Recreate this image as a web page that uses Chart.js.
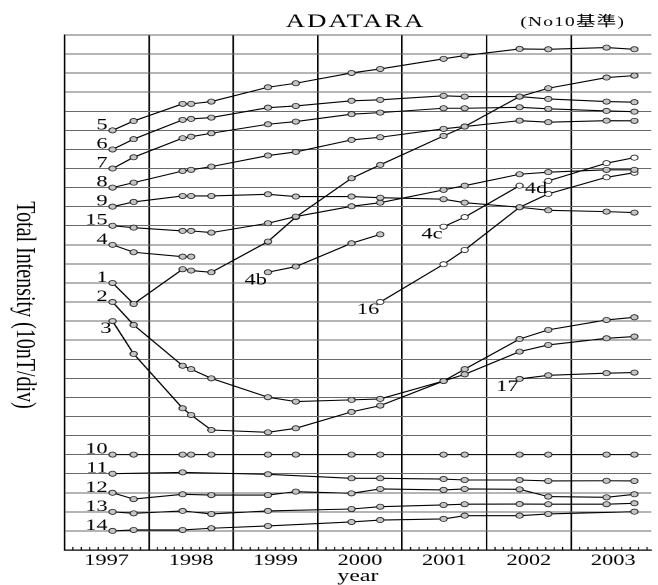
<!DOCTYPE html>
<html>
<head>
<meta charset="utf-8">
<script src="https://cdn.jsdelivr.net/npm/chart.js@4.4.1/dist/chart.umd.min.js"></script>
<style>
  html, body { margin: 0; padding: 0; background: #fff; overflow: hidden; }
  /* the original figure is stretched sideways, so the chart is drawn narrow and widened */
  #wrap { width: 470px; height: 585px; transform: scaleX(1.4); transform-origin: 0 0; }
</style>
</head>
<body>
<div id="wrap"><canvas id="chart"></canvas></div>
<script>
// survey dates (decimal years), shared by all stations
const dates = [1997.57, 1997.82, 1998.40, 1998.50, 1998.74, 1999.41, 1999.74, 2000.40,
               2000.74, 2001.49, 2001.74, 2002.39, 2002.73, 2003.42, 2003.75];
const tickYears = [1997, 1998, 1999, 2000, 2001, 2002, 2003];
const yearLines = [1998, 1999, 2000, 2001, 2002, 2003];

// total intensity per station, in divisions of 10 nT (null = not measured)
const s5  = [22.0, 22.49, 23.39, 23.39, 23.51, 24.26, 24.47, 25.01, 25.22, 25.75, 25.92, 26.27, 26.25, 26.34, 26.25];
const s6  = [21.0, 21.54, 22.55, 22.60, 22.67, 23.19, 23.28, 23.55, 23.60, 23.81, 23.77, 23.77, 23.65, 23.51, 23.48];
const s7  = [20.0, 20.59, 21.59, 21.67, 21.85, 22.32, 22.46, 22.85, 22.93, 23.16, 23.16, 23.21, 23.13, 23.02, 22.98];
const s8  = [19.0, 19.26, 19.87, 19.93, 20.10, 20.68, 20.87, 21.50, 21.64, 22.08, 22.20, 22.51, 22.43, 22.51, 22.50];
const s9  = [18.0, 18.25, 18.56, 18.56, 18.56, 18.65, 18.53, 18.53, 18.47, 18.39, 18.21, 17.97, 17.81, 17.74, 17.69];
const s15 = [17.0, 16.90, 16.73, 16.73, 16.64, 17.13, 17.48, 18.02, 18.21, 18.88, 19.10, 19.70, 19.81, 19.93, 19.93];
const s4  = [16.0, 15.61, 15.38, 15.38, null, null, null, null, null, null, null, null, null, null, null];
const s4b = [null, null, null, null, null, 14.56, 14.86, 16.08, 16.55, null, null, null, null, null, null];
const s4c = [null, null, null, null, null, null, null, null, null, 16.95, 17.45, 19.10, null, null, null];
const s4d = [null, null, null, null, null, null, null, null, null, null, null, null, 19.35, 20.28, 20.57];
const s1  = [14.0, 12.90, 14.72, 14.65, 14.56, 16.17, 17.45, 19.49, 20.19, 21.71, 22.20, 23.77, 24.21, 24.77, 24.87];
const s16 = [null, null, null, null, null, null, null, null, 13.0, 14.98, 15.73, 17.97, 18.67, 19.54, 19.78];
const s2  = [13.0, 11.80, 9.66, 9.48, 9.00, 8.01, 7.78, 7.87, 7.92, 8.86, 9.21, 10.40, 10.75, 11.10, 11.19];
const s3  = [12.0, 10.28, 7.43, 7.08, 6.29, 6.17, 6.38, 7.24, 7.57, 8.86, 9.48, 11.06, 11.54, 12.06, 12.20];
const s17 = [null, null, null, null, null, null, null, null, null, null, null, 8.97, 9.16, 9.27, 9.30];
const s10 = [5, 5, 5, 5, 5, 5, 5, 5, 5, 5, 5, 5, 5, 5, 5];
const s11 = [4.0, null, 4.07, null, null, 3.97, null, 3.76, 3.76, 3.72, 3.67, 3.67, 3.62, 3.63, 3.62];
const s12 = [3.0, 2.67, 2.92, null, 2.88, 2.88, 3.06, 2.97, 3.20, 3.15, 3.20, 3.18, 2.80, 2.76, 2.92];
const s13 = [2.0, 1.92, 2.05, null, 1.89, 2.05, null, 2.15, 2.27, 2.36, 2.40, 2.41, 2.40, 2.40, 2.45];
const s14 = [1.0, 1.05, 1.05, null, 1.14, 1.26, null, 1.47, 1.57, 1.63, 1.80, 1.80, 1.89, null, 2.01];

const stations = [
  ['5', s5], ['6', s6], ['7', s7], ['8', s8], ['9', s9], ['15', s15], ['4', s4],
  ['4b', s4b], ['4c', s4c], ['4d', s4d], ['1', s1], ['16', s16], ['2', s2], ['3', s3],
  ['17', s17], ['10', s10], ['11', s11], ['12', s12], ['13', s13], ['14', s14]
];
const openMarkers = ['16', '4c', '4d'];
const labelsBelow = ['3', '4b', '4c', '4d', '16', '17'];

const SERIF = '"Liberation Serif", "Times New Roman", serif';

const datasets = stations.map(([name, vals]) => ({
  label: name,
  data: dates.map((x, i) => ({ x: x, y: vals[i] })).filter(p => p.y !== null),
  borderColor: '#000',
  borderWidth: 1.1,
  pointRadius: 2.6,
  pointBorderWidth: 0.8,
  pointBorderColor: '#222',
  pointBackgroundColor: openMarkers.includes(name) ? '#fff' : '#c4c4c4',
  tension: 0
}));

// titles, station names and the small year ticks
const decorPlugin = {
  id: 'decor',
  afterDraw(chart) {
    const ctx = chart.ctx;
    const area = chart.chartArea;
    const xs = chart.scales.x;
    ctx.save();

    ctx.strokeStyle = '#000';
    ctx.lineWidth = 0.8;
    ctx.beginPath();
    for (let i = 1; i < 70; i++) {
      if (i % 10 === 0) continue;
      const px = xs.getPixelForValue(1997 + i / 10);
      if (px > area.right) break;
      ctx.moveTo(px, area.bottom);
      ctx.lineTo(px, area.bottom - 3);
    }
    ctx.stroke();

    ctx.fillStyle = '#000';
    ctx.font = '16px ' + SERIF;
    ctx.textAlign = 'right';
    ctx.textBaseline = 'alphabetic';
    chart.data.datasets.forEach((ds, di) => {
      const pt = chart.getDatasetMeta(di).data[0];
      if (labelsBelow.includes(ds.label)) ctx.fillText(ds.label, pt.x - 0.7, pt.y + 12);
      else ctx.fillText(ds.label, pt.x - 3.5, pt.y - 1);
    });

    ctx.textAlign = 'center';
    ctx.font = '19px ' + SERIF;
    ctx.letterSpacing = '1.5px';
    ctx.fillText('ADATARA', 254, 27);
    ctx.font = '14px ' + SERIF + ', "Noto Sans CJK JP"';
    ctx.letterSpacing = '0.8px';
    ctx.fillText('(No10基準)', 409, 26);
    ctx.letterSpacing = '0px';

    ctx.translate(17, 305);
    ctx.rotate(Math.PI / 2);
    ctx.font = '20px ' + SERIF;
    ctx.textBaseline = 'middle';
    ctx.fillText('Total Intensity (10nT/div)', 0, 0);
    ctx.restore();
  }
};

new Chart(document.getElementById('chart'), {
  type: 'line',
  data: { datasets: datasets },
  plugins: [decorPlugin],
  options: {
    responsive: true,
    maintainAspectRatio: false,
    devicePixelRatio: 2,
    animation: false,
    layout: { padding: { top: 35, left: 0, right: 0, bottom: 0 } },
    plugins: { legend: { display: false }, tooltip: { enabled: false } },
    scales: {
      x: {
        type: 'linear',
        min: 1997,
        max: 2003.95,
        afterBuildTicks: s => { s.ticks = tickYears.map(y => ({ value: y + 0.5 })); },
        afterFit: s => { s.height = 35; },
        ticks: {
          autoSkip: false,
          maxRotation: 0,
          padding: 1,
          color: '#000',
          font: { family: SERIF, size: 16 },
          callback: (v, i) => String(tickYears[i])
        },
        grid: { display: false, drawTicks: false },
        border: { display: true, color: '#000', width: 1.2 },
        title: {
          display: true,
          text: 'year',
          color: '#000',
          padding: 0,
          font: { family: SERIF, size: 17, lineHeight: 1 }
        }
      },
      xg: {
        type: 'linear',
        position: 'bottom',
        min: 1997,
        max: 2003.95,
        afterBuildTicks: s => { s.ticks = yearLines.map(y => ({ value: y })); },
        afterFit: s => { s.height = 0; },
        ticks: { display: false },
        grid: { color: '#000', lineWidth: 1.1, drawTicks: false },
        border: { display: false }
      },
      y: {
        min: 0,
        max: 27,
        afterFit: s => { s.width = 46; },
        ticks: { display: false, stepSize: 1 },
        grid: { color: '#6a6a6a', lineWidth: 1, drawTicks: false },
        border: { display: true, color: '#000', width: 1.2 }
      }
    }
  }
});
</script>
</body>
</html>
